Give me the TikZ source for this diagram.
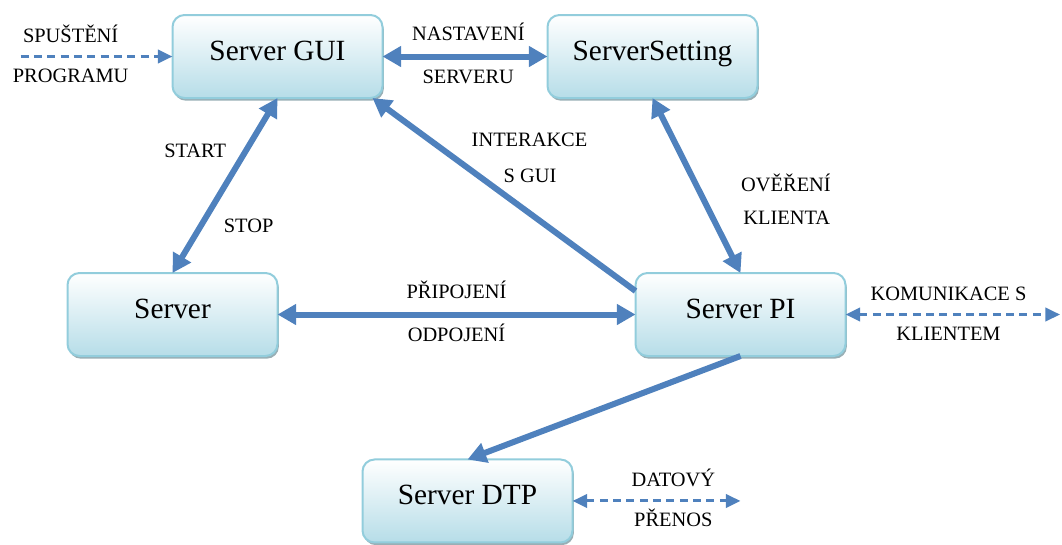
\documentclass[tikz,border=0pt]{standalone}
\usepackage{fontspec}
\setmainfont{Liberation Serif}
\usepackage{xcolor}
\usepackage{tikz}
\usetikzlibrary{positioning, arrows.meta, shadows}
\definecolor{srvblue}{HTML}{4F81BD}
\definecolor{srvline}{HTML}{92CDDC}
\definecolor{srvfill}{HTML}{B6DDE8}
\definecolor{srvshadow}{HTML}{7F9BA3}

\begin{document}
\begin{tikzpicture}[
  srvbox/.style={
    rectangle, rounded corners=9pt, draw=srvline, line width=1.5pt,
    top color=white, bottom color=srvfill,
    minimum width=157.5pt, text height=33.75pt, text depth=28.5pt,
    inner ysep=0pt, outer sep=0pt,
    font=\fontsize{22}{26}\selectfont,
    drop shadow={shadow xshift=1pt, shadow yshift=-2pt, fill=srvshadow, opacity=.8}
  },
  lbl/.style={
    font=\fontsize{15.3}{18}\selectfont, text=black,
    inner sep=0pt, text height=10.5pt, text depth=0pt
  },
  arr/.style={-{Triangle[length=14pt, width=15pt]}, line width=4.5pt, color=srvblue},
  biarr/.style={{Triangle[length=14pt, width=15pt]}-{Triangle[length=14pt, width=15pt]}, line width=4.5pt, color=srvblue},
  dasharr/.style={-{Triangle[length=11pt, width=10pt]}, line width=2.25pt, color=srvblue, dash pattern=on 6pt off 4pt},
  dashbiarr/.style={{Triangle[length=11pt, width=10pt]}-{Triangle[length=11pt, width=10pt]}, line width=2.25pt, color=srvblue, dash pattern=on 6pt off 4pt},
]
\useasboundingbox (0,0) rectangle (796.5pt,-408pt);

% Bloky serveru
\node[srvbox] (gui) at (208.125pt,-42.375pt) {Server GUI};
\node[srvbox, right=123.75pt of gui] (setting) {ServerSetting};
\node[srvbox, below=131.25pt of gui, xshift=-78.75pt] (server) {Server};
\node[srvbox, right=268.5pt of server] (pi) {Server PI};
\node[srvbox, below=77.6pt of pi, xshift=-204.75pt] (dtp) {Server DTP};

% Volne konce
\coordinate[left=114pt of gui.west] (launch);
\coordinate[right=160.9pt of pi.east] (client);
\coordinate[right=126pt of dtp.east] (data);

% Spojeni
\draw[dasharr] (launch) -- node[lbl, above=9.75pt, pos=.33] {SPUŠTĚNÍ} node[lbl, below=7.5pt, pos=.33] {PROGRAMU} (gui);
\draw[biarr] (gui) -- node[lbl, above=9.75pt, pos=.52] {NASTAVENÍ} node[lbl, below=7.5pt, pos=.52] {SERVERU} (setting);
\draw[biarr] (gui.south) -- node[lbl, left=12.75pt, pos=.3] {START} node[lbl, right=15pt, pos=.73] {STOP} (server.north);
\draw[arr] ([yshift=-13.5pt]pi.north west) -- node[lbl, pos=.787, xshift=75.75pt] {INTERAKCE} node[lbl, pos=.597, xshift=38.6pt] {S GUI} ([xshift=-7.5pt]gui.south east);
\draw[biarr] (setting.south) -- node[lbl, pos=.494, xshift=67.5pt] {OVĚŘENÍ} node[lbl, pos=.685, xshift=55.5pt] {KLIENTA} (pi.north);
\draw[biarr] (server) -- node[lbl, above=9.75pt] {PŘIPOJENÍ} node[lbl, below=7.5pt] {ODPOJENÍ} (pi);
\draw[arr] (pi.south) -- (dtp.north);
\draw[dashbiarr] (pi) -- node[lbl, above=9.75pt, pos=.48] {KOMUNIKACE S} node[lbl, below=7.5pt, pos=.48] {KLIENTEM} (client);
\draw[dashbiarr] (dtp) -- node[lbl, above=9.75pt, pos=.6] {DATOVÝ} node[lbl, below=7.5pt, pos=.6] {PŘENOS} (data);

\end{tikzpicture}
\end{document}
